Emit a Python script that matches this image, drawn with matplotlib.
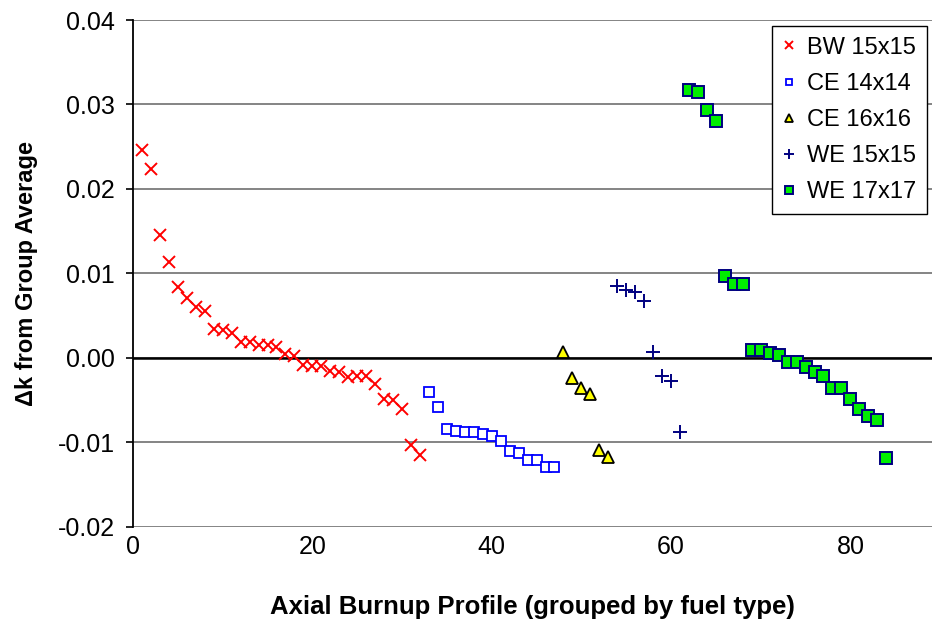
import matplotlib
matplotlib.use("Agg")
import matplotlib.pyplot as plt

plt.rcParams["font.family"] = ["Liberation Sans", "DejaVu Sans"]

# delta-k values per axial profile, grouped by fuel type
bw15_x = list(range(1, 33))
bw15_dk = [0.0246, 0.0224, 0.0145, 0.0114, 0.0084, 0.0071, 0.0060, 0.0056,
           0.0034, 0.0033, 0.0029, 0.0019, 0.0019, 0.0015, 0.0015, 0.0013,
           0.0005, 0.0002, -0.0008, -0.0009, -0.0009, -0.0015, -0.0017, -0.0022,
           -0.0021, -0.0021, -0.0031, -0.0048, -0.0050, -0.0060, -0.0103, -0.0115]

ce14_x = list(range(33, 48))
ce14_dk = [-0.0040, -0.0058, -0.0084, -0.0086, -0.0088, -0.0088, -0.0090,
           -0.0092, -0.0098, -0.0110, -0.0112, -0.0121, -0.0121, -0.0129, -0.0129]

ce16_x = list(range(48, 54))
ce16_dk = [0.0007, -0.0024, -0.0036, -0.0043, -0.0109, -0.0117]

we15_x = list(range(54, 62))
we15_dk = [0.0085, 0.0080, 0.0078, 0.0067, 0.0007, -0.0021, -0.0027, -0.0088]

we17_x = list(range(62, 85))
we17_dk = [0.0317, 0.0315, 0.0293, 0.0280, 0.0097, 0.0088, 0.0088, 0.0010,
           0.0009, 0.0006, 0.0003, -0.0005, -0.0005, -0.0011, -0.0017, -0.0021,
           -0.0035, -0.0036, -0.0048, -0.0060, -0.0069, -0.0073, -0.0118]

fig = plt.figure(figsize=(9.32, 6.28), dpi=100)
ax = fig.add_axes([133 / 932, 1 - 527 / 628, 1 - 133 / 932, 507 / 628])

ax.set_xlim(0, 89.1)
ax.set_ylim(-0.02, 0.04)
ax.set_yticks([-0.02, -0.01, 0.0, 0.01, 0.02, 0.03, 0.04])
ax.set_yticklabels(["-0.02", "-0.01", "0.00", "0.01", "0.02", "0.03", "0.04"])
ax.set_xticks([0, 20, 40, 60, 80])

for s in ["top", "right", "bottom"]:
    ax.spines[s].set_visible(False)
ax.spines["left"].set_color("black")
ax.spines["left"].set_linewidth(1.3)

ax.yaxis.grid(True, color="#707070", linewidth=1.2)
ax.set_axisbelow(True)
ax.axhline(0.0, color="black", linewidth=1.8, zorder=1)

ax.tick_params(axis="y", length=5, width=1.2, labelsize=18, pad=8)
ax.tick_params(axis="x", length=0, labelsize=18, pad=6)

ax.plot(bw15_x, bw15_dk, "x", color="red", markersize=9, markeredgewidth=1.4,
        label="BW 15x15", zorder=3)
ax.plot(ce14_x, ce14_dk, "s", markerfacecolor="white", markeredgecolor="blue",
        markersize=7, markeredgewidth=1.3, label="CE 14x14", zorder=3)
ax.plot(ce16_x, ce16_dk, "^", markerfacecolor="yellow", markeredgecolor="black",
        markersize=9, markeredgewidth=1.3, label="CE 16x16", zorder=3)
ax.plot(we15_x, we15_dk, "+", color="navy", markersize=10, markeredgewidth=1.4,
        label="WE 15x15", zorder=3)
ax.plot(we17_x, we17_dk, "s", markerfacecolor="#00ee00", markeredgecolor="navy",
        markersize=8, markeredgewidth=1.4, label="WE 17x17", zorder=3)

ax.set_xlabel("Axial Burnup Profile (grouped by fuel type)", fontsize=18.5,
              fontweight="bold", labelpad=26)
ax.set_ylabel("\u0394k from Group Average", fontsize=17, fontweight="bold",
              labelpad=14)

leg = ax.legend(loc="upper right", bbox_to_anchor=(927 / 932, 1 - 26 / 628),
                bbox_transform=fig.transFigure, borderaxespad=0,
                fontsize=17, markerscale=0.65, handlelength=0.6,
                handletextpad=0.45, labelspacing=0.6, borderpad=0.45,
                fancybox=False, framealpha=1, edgecolor="black")
leg.get_frame().set_linewidth(1.0)

fig.savefig("out.png", dpi=100)
